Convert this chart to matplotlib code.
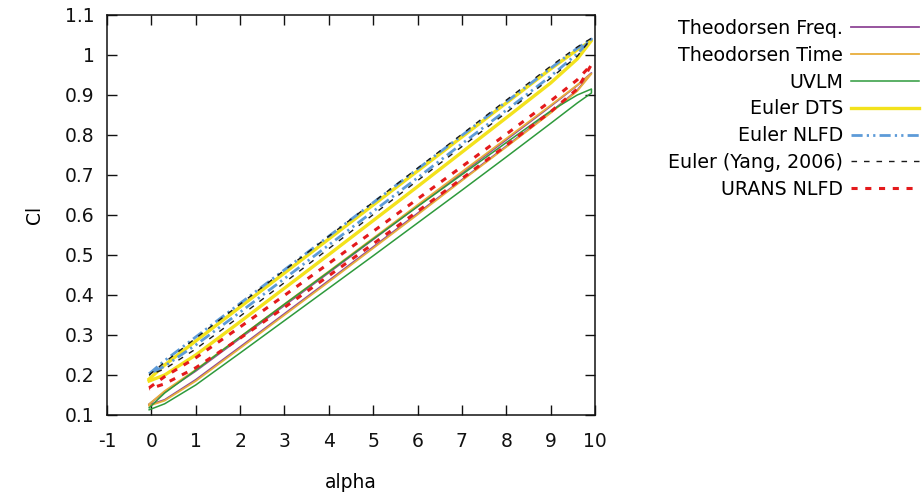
import matplotlib
matplotlib.use("Agg")
import matplotlib.pyplot as plt

# ---------------- data (hysteresis loops) ----------------
alpha_pts = [-0.05, 0.3, 1, 2, 3, 4, 5, 6, 7, 8, 9, 9.6, 9.92]

theo_freq_up = [0.127, 0.158, 0.210, 0.292, 0.374, 0.456, 0.539, 0.622, 0.705, 0.788, 0.872, 0.924, 0.955]
theo_freq_dn = [0.125, 0.138, 0.188, 0.270, 0.353, 0.436, 0.520, 0.604, 0.688, 0.772, 0.857, 0.912, 0.955]

theo_time_up = [0.127, 0.160, 0.213, 0.295, 0.377, 0.459, 0.542, 0.625, 0.708, 0.791, 0.874, 0.925, 0.953]
theo_time_dn = [0.123, 0.136, 0.185, 0.267, 0.350, 0.433, 0.517, 0.601, 0.686, 0.770, 0.855, 0.910, 0.953]

uvlm_up = [0.118, 0.155, 0.212, 0.295, 0.377, 0.458, 0.540, 0.621, 0.701, 0.781, 0.860, 0.900, 0.915]
uvlm_dn = [0.113, 0.128, 0.175, 0.255, 0.336, 0.417, 0.498, 0.580, 0.662, 0.745, 0.829, 0.880, 0.905]

dts_up = [0.190, 0.225, 0.285, 0.370, 0.455, 0.540, 0.625, 0.710, 0.795, 0.880, 0.965, 1.013, 1.036]
dts_dn = [0.185, 0.200, 0.250, 0.333, 0.417, 0.501, 0.586, 0.671, 0.757, 0.843, 0.930, 0.990, 1.036]

nlfd_up = [0.203, 0.236, 0.295, 0.379, 0.463, 0.547, 0.631, 0.715, 0.799, 0.883, 0.967, 1.017, 1.040]
nlfd_dn = [0.203, 0.222, 0.275, 0.357, 0.441, 0.525, 0.609, 0.693, 0.778, 0.862, 0.947, 1.003, 1.040]

yang_up = [0.200, 0.232, 0.292, 0.377, 0.462, 0.547, 0.632, 0.717, 0.802, 0.887, 0.972, 1.020, 1.042]
yang_dn = [0.200, 0.215, 0.265, 0.347, 0.431, 0.516, 0.601, 0.686, 0.771, 0.856, 0.942, 0.997, 1.042]

urans_up = [0.168, 0.196, 0.243, 0.320, 0.399, 0.479, 0.559, 0.640, 0.721, 0.802, 0.885, 0.938, 0.976]
urans_dn = [0.165, 0.178, 0.218, 0.292, 0.369, 0.448, 0.528, 0.609, 0.691, 0.774, 0.858, 0.915, 0.976]

labels = ["Theodorsen Freq.", "Theodorsen Time", "UVLM", "Euler DTS",
          "Euler NLFD", "Euler (Yang, 2006)", "URANS NLFD"]
x_ticks = [-1, 0, 1, 2, 3, 4, 5, 6, 7, 8, 9, 10]
y_ticks = [0.1, 0.2, 0.3, 0.4, 0.5, 0.6, 0.7, 0.8, 0.9, 1.0, 1.1]

#-----------------------------plot----------------------------------------------
plt.rcParams['font.family'] = ['DejaVu Sans']

fig = plt.figure(figsize=(9.23, 4.95), dpi=100)
ax = fig.add_axes([107/923, 1-415/495, (595-107)/923, (415-15)/495])


def loop(up, dn):
    return alpha_pts + alpha_pts[::-1], up + dn[::-1]


series = [
    (theo_freq_up, theo_freq_dn, dict(color='#8f4696', lw=1.3)),
    (theo_time_up, theo_time_dn, dict(color='#e8ae3c', lw=1.3)),
    (uvlm_up, uvlm_dn, dict(color='#2e9a3c', lw=1.1)),
    (dts_up, dts_dn, dict(color='#f3e21c', lw=2.4)),
    (nlfd_up, nlfd_dn, dict(color='#5d9bd8', lw=2.0, dashes=(4, 1.5, 0.8, 1.5, 0.8, 1.5))),
    (yang_up, yang_dn, dict(color='#1a1a1a', lw=1.0, dashes=(4, 5))),
    (urans_up, urans_dn, dict(color='#e41a1c', lw=2.2, dashes=(2, 2.5))),
]

for (up, dn, style), lab in zip(series, labels):
    xs, ys = loop(up, dn)
    ax.plot(xs, ys, label=lab, solid_joinstyle='round', **style)

ax.set_xlim(-1, 10)
ax.set_ylim(0.1, 1.1)
ax.set_xticks(x_ticks)
ax.set_xticklabels([str(v) for v in x_ticks])
ax.set_yticks(y_ticks)
ax.set_yticklabels(['%g' % v for v in y_ticks])
ax.tick_params(direction='in', length=7, width=1.0, top=True, right=True,
               labelsize=13.5, colors='#111111')
ax.tick_params(axis='x', pad=12)
ax.tick_params(axis='y', pad=9)
for sp in ax.spines.values():
    sp.set_linewidth(1.1)
    sp.set_color('#111111')

ax.set_xlabel('alpha', fontsize=13.5, labelpad=16)
ax.set_ylabel('Cl', fontsize=13.5, labelpad=15)

leg = ax.legend(loc='upper right', bbox_to_anchor=(919/923, 1-19/495),
                bbox_transform=fig.transFigure, frameon=False, markerfirst=False,
                fontsize=13.7, handlelength=3.55, handletextpad=0.45,
                labelspacing=0.41, borderpad=0, borderaxespad=0)

fig.savefig('out.png', dpi=100)
